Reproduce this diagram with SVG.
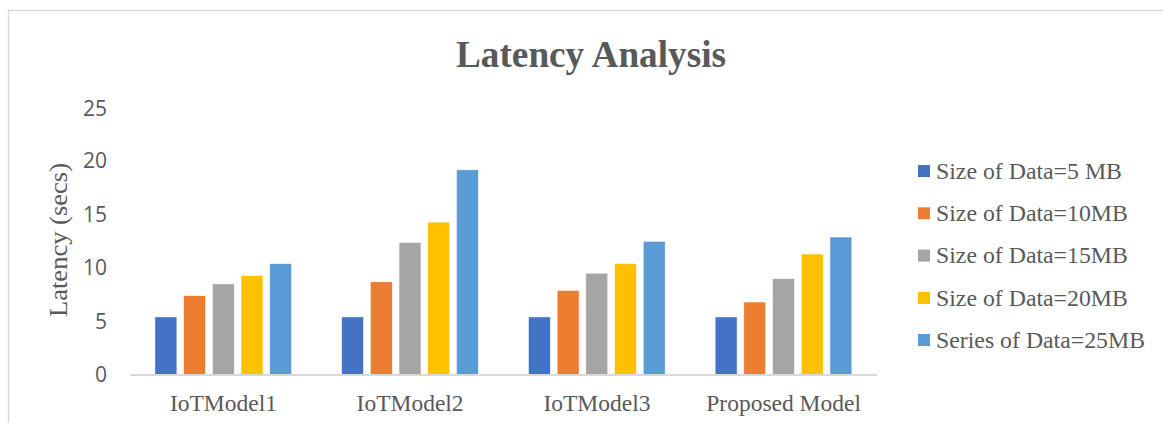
<svg xmlns="http://www.w3.org/2000/svg" width="1163" height="423" viewBox="0 0 1163 423">
<style>
.frame{fill:#FFFFFF;stroke:#D9D9D9;stroke-width:1.5}
.axis{stroke:#D9D9D9;stroke-width:2;fill:none}
.tick{font-family:"Open Sans","Noto Sans",sans-serif;font-size:21px;fill:#595959;text-anchor:end}
.cat{font-family:"Liberation Serif","Times New Roman",serif;font-size:23.5px;fill:#595959;text-anchor:middle}
.leg{font-family:"Liberation Serif","Times New Roman",serif;font-size:23.8px;fill:#595959}
.title{font-family:"Liberation Serif","Times New Roman",serif;font-size:38px;font-weight:bold;fill:#595959;text-anchor:middle}
.ytitle{font-family:"Liberation Serif","Times New Roman",serif;font-size:26px;fill:#595959;text-anchor:middle}
.s1{fill:#4472C4}.s2{fill:#ED7D31}.s3{fill:#A5A5A5}.s4{fill:#FFC000}.s5{fill:#5B9BD5}
rect.b{stroke:#FFFFFF;stroke-width:0.6}
</style>
<rect class="frame" x="8.5" y="10.5" width="1165" height="430"/>
<text id="title" class="title" x="591" y="66.5" textLength="270" lengthAdjust="spacingAndGlyphs">Latency Analysis</text>
<text id="ytitle" class="ytitle" transform="translate(66.5,240) rotate(-90)" textLength="154" lengthAdjust="spacingAndGlyphs">Latency (secs)</text>
<g id="yticks">
<text class="tick" x="107" y="115.5">25</text>
<text class="tick" x="107" y="168">20</text>
<text class="tick" x="107" y="221.5">15</text>
<text class="tick" x="107" y="275">10</text>
<text class="tick" x="107" y="328.5">5</text>
<text class="tick" x="107" y="382">0</text>
</g>
<g id="IoTModel1">
<rect class="b s1" x="154.9" y="316.9" width="22" height="57.6"/>
<rect class="b s2" x="183.6" y="295.6" width="22" height="78.9"/>
<rect class="b s3" x="212.3" y="283.9" width="22" height="90.6"/>
<rect class="b s4" x="241.0" y="275.4" width="22" height="99.1"/>
<rect class="b s5" x="269.7" y="263.6" width="22" height="110.9"/>
<text class="cat" x="223.4" y="410.5">IoTModel1</text>
</g>
<g id="IoTModel2">
<rect class="b s1" x="341.6" y="316.9" width="22" height="57.6"/>
<rect class="b s2" x="370.3" y="281.8" width="22" height="92.7"/>
<rect class="b s3" x="399.0" y="242.3" width="22" height="132.2"/>
<rect class="b s4" x="427.7" y="222.1" width="22" height="152.4"/>
<rect class="b s5" x="456.4" y="169.8" width="22" height="204.7"/>
<text class="cat" x="410.1" y="410.5">IoTModel2</text>
</g>
<g id="IoTModel3">
<rect class="b s1" x="528.4" y="316.9" width="22" height="57.6"/>
<rect class="b s2" x="557.1" y="290.3" width="22" height="84.2"/>
<rect class="b s3" x="585.8" y="273.2" width="22" height="101.3"/>
<rect class="b s4" x="614.5" y="263.6" width="22" height="110.9"/>
<rect class="b s5" x="643.2" y="241.25" width="22" height="133.25"/>
<text class="cat" x="596.9" y="410.5">IoTModel3</text>
</g>
<g id="ProposedModel">
<rect class="b s1" x="715.1" y="316.9" width="22" height="57.6"/>
<rect class="b s2" x="743.8" y="302.0" width="22" height="72.5"/>
<rect class="b s3" x="772.5" y="278.6" width="22" height="95.9"/>
<rect class="b s4" x="801.2" y="254.0" width="22" height="120.5"/>
<rect class="b s5" x="829.9" y="237.0" width="22" height="137.5"/>
<text class="cat" x="783.6" y="410.5">Proposed Model</text>
</g>
<g id="connectors">
<line class="axis" x1="130" y1="375" x2="877" y2="375"/>
</g>
<g id="legend">
<rect class="s1" x="918" y="165" width="12" height="12"/>
<text class="leg" x="936" y="178.5">Size of Data=5 MB</text>
<rect class="s2" x="918" y="207.3" width="12" height="12"/>
<text class="leg" x="936" y="220.8">Size of Data=10MB</text>
<rect class="s3" x="918" y="249.6" width="12" height="12"/>
<text class="leg" x="936" y="263.1">Size of Data=15MB</text>
<rect class="s4" x="918" y="292" width="12" height="12"/>
<text class="leg" x="936" y="305.5">Size of Data=20MB</text>
<rect class="s5" x="918" y="334" width="12" height="12"/>
<text class="leg" x="936" y="347.5">Series of Data=25MB</text>
</g>
</svg>
